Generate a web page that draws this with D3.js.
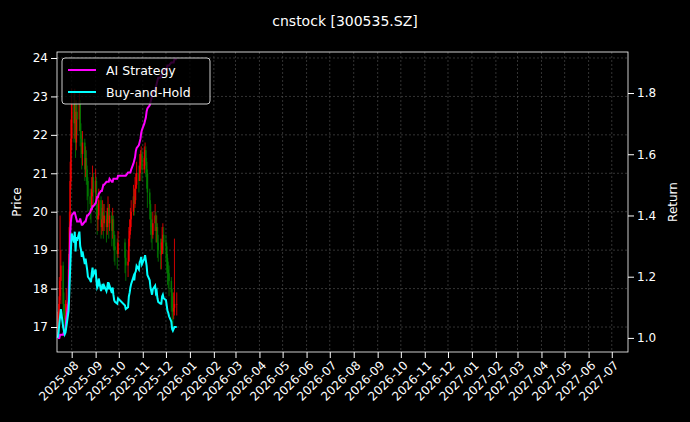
<!DOCTYPE html>
<html>
<head>
<meta charset="utf-8">
<script src="https://cdn.jsdelivr.net/npm/d3@7"></script>
<style>
  body { margin: 0; background: #000; }
  text { font-family: "DejaVu Sans", sans-serif; }
</style>
</head>
<body>
<div id="chart"></div>
<script>
// daily closes, 300535.SZ
var closes = [17.0,17.3,17.8,18.2,18.6,17.6,17.4,17.2,17.3,17.6,18.5,19.6,20.8,21.9,
  22.8,22.3,22.9,21.8,22.6,22.4,22.9,22.1,
  21.9,21.5,21.8,21.1,21.4,21.1,20.8,20.4,20.2,
  20.1,20.6,20.9,20.5,20.8,20.2,19.8,19.9,20.3,19.6,19.8,
  20.0,19.7,19.9,19.6,19.8,20.1,19.7,19.9,19.5,19.8,19.4,19.1,19.0,
  18.9,19.2,18.8,18.6,18.7,19.3,19.5,
  19.8,20.0,20.4,20.2,20.6,20.7,21.0,20.8,21.2,
  21.3,21.5,21.1,21.4,21.6,21.3,21.0,
  20.5,20.2,19.8,19.6,19.4,19.7,19.9,19.5,19.6,19.2,19.0,18.9,
  18.9,19.3,19.4,19.2,19.1,18.8,18.5,18.4,18.2,17.9,17.5,17.4,17.5,17.6,17.6];
var highs = [17.4,17.6,18.3,19.9,19.0,18.7,17.9,17.6,17.7,18.0,18.9,20.0,21.3,22.4,
  23.2,23.1,23.2,22.9,22.9,22.8,23.1,22.9,
  22.3,22.0,22.1,21.9,21.7,21.6,21.2,20.9,20.6,
  20.5,20.9,21.2,21.0,21.1,20.9,20.3,20.2,20.6,20.4,20.1,
  20.3,20.2,20.2,20.0,20.1,20.4,20.2,20.2,20.0,20.1,19.9,19.5,19.4,
  19.3,19.5,19.3,19.0,19.0,19.6,19.8,
  20.1,20.3,20.7,20.6,20.9,21.0,21.3,21.2,21.5,
  21.6,21.7,21.6,21.7,21.8,21.7,21.4,
  21.1,20.6,20.3,20.0,19.8,20.0,20.2,20.0,19.9,19.7,19.4,19.3,
  19.2,19.6,19.7,19.6,19.4,19.2,18.9,18.7,18.6,18.3,18.0,17.8,17.9,19.3,17.9];
var lows = [16.8,16.9,17.2,17.7,17.6,17.3,17.1,16.9,17.0,17.2,17.5,18.4,19.5,20.6,
  21.6,21.8,21.9,21.4,21.6,22.0,22.1,21.7,
  21.4,21.1,21.2,20.8,20.9,20.7,20.3,20.0,19.8,
  19.7,20.0,20.4,20.1,20.2,19.8,19.4,19.5,19.8,19.3,19.4,
  19.5,19.3,19.5,19.2,19.4,19.6,19.3,19.5,19.1,19.3,19.0,18.7,18.6,
  18.5,18.8,18.4,18.2,18.3,18.7,19.1,
  19.4,19.6,19.9,19.9,20.1,20.3,20.6,20.5,20.8,
  21.0,21.1,20.8,21.0,21.2,20.9,20.6,
  20.1,19.8,19.4,19.2,19.0,19.3,19.5,19.2,19.2,18.8,18.7,18.5,
  18.5,18.9,19.0,18.9,18.7,18.4,18.1,18.0,17.8,17.4,17.1,17.0,17.2,17.3,17.3];
var aiReturn = [1.00,1.00,1.00,1.01,1.01,1.01,1.02,1.02,1.03,1.06,1.12,1.22,1.34,1.38,
  1.40,1.41,1.41,1.40,1.39,1.38,1.38,1.39,
  1.38,1.37,1.37,1.38,1.38,1.39,1.40,1.40,1.41,
  1.42,1.42,1.43,1.43,1.44,1.45,1.46,1.46,1.47,1.48,1.48,
  1.49,1.50,1.50,1.51,1.51,1.51,1.51,1.52,1.51,1.51,1.52,1.52,1.52,
  1.52,1.53,1.53,1.53,1.54,1.54,1.54,
  1.54,1.55,1.57,1.58,1.59,1.61,1.62,1.63,1.64,
  1.65,1.67,1.68,1.70,1.71,1.72,1.74,1.75,
  1.76,1.77,1.78,1.79,1.80,1.81,1.82,1.83,1.84,1.85,1.85,1.86,
  1.86,1.87,1.87,1.88,1.88,1.89,1.89,1.89,1.90,1.90,1.90,1.90,1.91,1.91,1.91];
var startDate = "2025-07-14";
var holidays = ["2025-10-01","2025-10-02","2025-10-03","2025-10-06","2025-10-07","2025-10-08"];
var priceTicks = [17,18,19,20,21,22,23,24];
var returnTicks = [1.0,1.2,1.4,1.6,1.8];
var seriesNames = ["AI Strategy", "Buy-and-Hold"];
var seriesColors = ["#ff00ff", "#00ffff"];

var width = 690, height = 422;
var margin = {left: 57, right: 62, top: 52, bottom: 70};
var pw = width - margin.left - margin.right, ph = height - margin.top - margin.bottom;

// trading dates
var dates = [];
var d = new Date(startDate + "T00:00:00");
while (dates.length < closes.length) {
  var key = d3.timeFormat("%Y-%m-%d")(d);
  if (d.getDay() != 0 && d.getDay() != 6 && holidays.indexOf(key) < 0) dates.push(new Date(d));
  d = d3.timeDay.offset(d, 1);
}
var bars = closes.map(function(c, i) {
  return {date: dates[i], open: i == 0 ? c : closes[i - 1], close: c, high: highs[i], low: lows[i],
    ai: aiReturn[i], bh: c / closes[0]};
});

var svg = d3.select("#chart").append("svg").attr("width", width).attr("height", height);
svg.append("rect").attr("width", width).attr("height", height).attr("fill", "#000");

var x = d3.scaleTime().domain([new Date(2025, 6, 13), new Date(2027, 6, 22)]).range([0, pw]);
var y = d3.scaleLinear().domain([16.35, 24.156]).range([ph, 0]);
var y2 = d3.scaleLinear().domain([0.954, 1.934]).range([ph, 0]);

var plot = svg.append("g").attr("transform", "translate(" + margin.left + "," + margin.top + ")");

var months = d3.timeMonth.range(new Date(2025, 7, 1), new Date(2027, 7, 1));

// grid
plot.append("g").selectAll("line").data(months).enter().append("line")
  .attr("x1", function(m) { return x(m); }).attr("x2", function(m) { return x(m); })
  .attr("y1", 0).attr("y2", ph)
  .attr("stroke", "#555").attr("stroke-width", 0.6).attr("stroke-dasharray", "2,2");
plot.append("g").selectAll("line").data(priceTicks).enter().append("line")
  .attr("x1", 0).attr("x2", pw)
  .attr("y1", function(t) { return y(t); }).attr("y2", function(t) { return y(t); })
  .attr("stroke", "#555").attr("stroke-width", 0.6).attr("stroke-dasharray", "2,2");

// candles
var cg = plot.append("g");
cg.selectAll("line").data(bars).enter().append("line")
  .attr("x1", function(b) { return x(b.date); }).attr("x2", function(b) { return x(b.date); })
  .attr("y1", function(b) { return y(b.high); }).attr("y2", function(b) { return y(b.low); })
  .attr("stroke", function(b) { return b.close >= b.open ? "#ff0000" : "#008000"; })
  .attr("stroke-width", 0.8);
cg.selectAll("rect").data(bars).enter().append("rect")
  .attr("x", function(b) { return x(b.date) - 0.8; })
  .attr("width", 1.6)
  .attr("y", function(b) { return y(Math.max(b.open, b.close)); })
  .attr("height", function(b) { return Math.max(0.5, Math.abs(y(b.open) - y(b.close))); })
  .attr("fill", function(b) { return b.close >= b.open ? "#ff0000" : "#008000"; })
  .attr("opacity", 0.8);

// return lines
["ai", "bh"].forEach(function(k, i) {
  plot.append("path").datum(bars)
    .attr("fill", "none").attr("stroke", seriesColors[i]).attr("stroke-width", 2)
    .attr("d", d3.line().x(function(b) { return x(b.date); }).y(function(b) { return y2(b[k]); }));
});

// axes
var xAxis = plot.append("g").attr("transform", "translate(0," + ph + ")")
  .call(d3.axisBottom(x).tickValues(months).tickFormat(d3.timeFormat("%Y-%m")).tickSizeOuter(0));
xAxis.selectAll("text").attr("transform", "rotate(-45)").attr("text-anchor", "end")
  .attr("dx", "-0.4em").attr("dy", "0.5em");
plot.append("g").call(d3.axisLeft(y).tickValues(priceTicks).tickFormat(d3.format("d")).tickSizeOuter(0));
plot.append("g").attr("transform", "translate(" + pw + ",0)")
  .call(d3.axisRight(y2).tickValues(returnTicks).tickFormat(d3.format(".1f")).tickSizeOuter(0));
plot.selectAll(".domain").remove();
plot.selectAll(".tick line").attr("stroke", "#fff");
plot.selectAll(".tick text").attr("fill", "#fff").style("font-size", "12px");
plot.append("rect").attr("width", pw).attr("height", ph).attr("fill", "none").attr("stroke", "#fff").attr("stroke-width", 0.8);

// labels
svg.append("text").attr("x", width / 2).attr("y", 26).attr("text-anchor", "middle")
  .attr("fill", "#fff").style("font-size", "14px").text("cnstock [300535.SZ]");
svg.append("text").attr("transform", "translate(21," + (margin.top + ph / 2) + ") rotate(-90)")
  .attr("text-anchor", "middle").attr("fill", "#fff").style("font-size", "12px").text("Price");
svg.append("text").attr("transform", "translate(677," + (margin.top + ph / 2) + ") rotate(-90)")
  .attr("text-anchor", "middle").attr("fill", "#fff").style("font-size", "12px").text("Return");

// legend
var lg = plot.append("g").attr("transform", "translate(5,6)");
lg.append("rect").attr("width", 148).attr("height", 46).attr("rx", 3)
  .attr("fill", "#000").attr("fill-opacity", 0.8).attr("stroke", "#ccc");
seriesNames.forEach(function(n, i) {
  lg.append("line").attr("x1", 6).attr("x2", 34).attr("y1", 12 + i * 22).attr("y2", 12 + i * 22)
    .attr("stroke", seriesColors[i]).attr("stroke-width", 2);
  lg.append("text").attr("x", 44).attr("y", 16.5 + i * 22).attr("fill", "#fff")
    .style("font-size", "12.5px").text(n);
});
</script>
</body>
</html>
